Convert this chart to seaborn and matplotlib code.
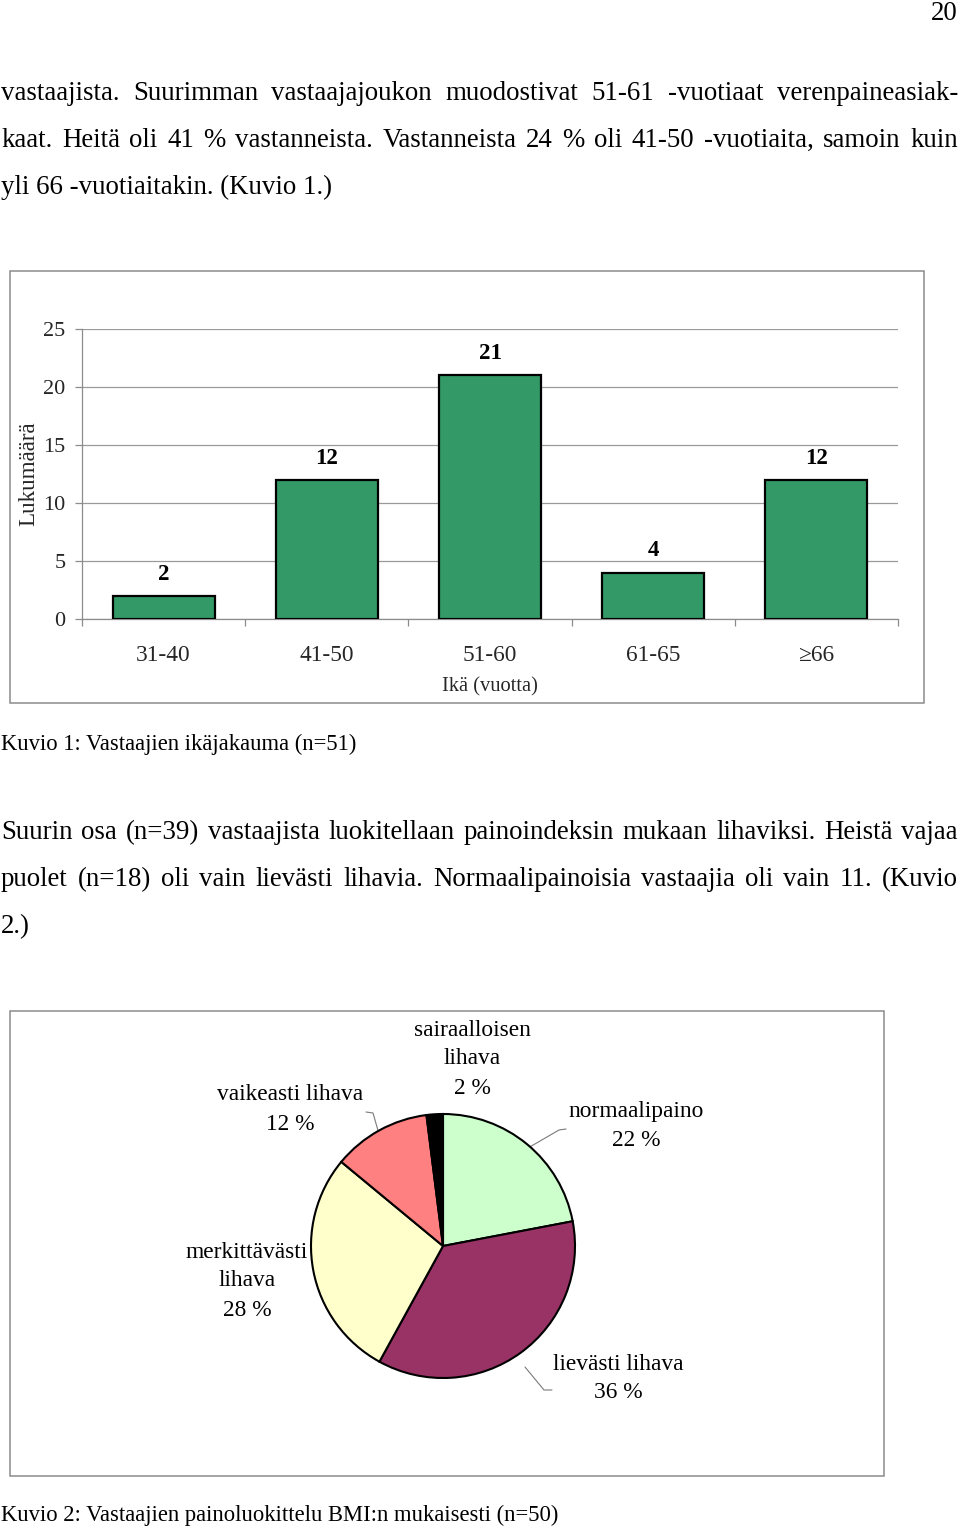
import matplotlib
matplotlib.use("Agg")
import matplotlib.pyplot as plt
import seaborn as sns
import pandas as pd
from matplotlib.patches import Rectangle

# ---------------- data ----------------
age_groups = ["31-40", "41-50", "51-60", "61-65", "\u226566"]
age_counts = [2, 12, 21, 4, 12]
y_ticks = [0, 5, 10, 15, 20, 25]

bmi_classes = ["normaalipaino", "lievästi lihava", "merkittävästi lihava",
               "vaikeasti lihava", "sairaalloisen lihava"]
bmi_percent = [22, 36, 28, 12, 2]
bmi_colors = ["#CCFFCC", "#993366", "#FFFFCC", "#FF8080", "#000000"]

para1 = [
    "vastaajista. Suurimman vastaajajoukon muodostivat 51-61 -vuotiaat verenpaineasiak-",
    "kaat. Heitä oli 41 % vastanneista. Vastanneista 24 % oli 41-50 -vuotiaita, samoin kuin",
    "yli 66 -vuotiaitakin. (Kuvio 1.)",
]
para2 = [
    "Suurin osa (n=39) vastaajista luokitellaan painoindeksin mukaan lihaviksi. Heistä vajaa",
    "puolet (n=18) oli vain lievästi lihavia. Normaalipainoisia vastaajia oli vain 11. (Kuvio",
    "2.)",
]
caption1 = "Kuvio 1: Vastaajien ikäjakauma (n=51)"
caption2 = "Kuvio 2: Vastaajien painoluokittelu BMI:n mukaisesti (n=50)"
page_number = "20"

# ---------------- setup ----------------
sns.set_theme(style="white")
plt.rcParams["font.family"] = ["Liberation Serif", "DejaVu Serif"]
plt.rcParams["text.color"] = "black"

W, H = 960, 1529
fig = plt.figure(figsize=(9.6, 15.29), dpi=100)
fig.patch.set_facecolor("white")


def rect(x0, y0, x1, y1):
    return [x0 / W, 1 - y1 / H, (x1 - x0) / W, (y1 - y0) / H]


page = fig.add_axes([0, 0, 1, 1], zorder=0)
page.set_xlim(0, W)
page.set_ylim(H, 0)
page.axis("off")
renderer = fig.canvas.get_renderer()


def width_px(t):
    return t.get_window_extent(renderer).width


def fit_size(s, target):
    t = page.text(0, 0, s, fontsize=20)
    w = width_px(t)
    t.remove()
    return 20 * target / w


body_fs = fit_size(para1[2], 332)


def justified(line, y, fs, x0=1, x1=958):
    words = line.split(" ")
    ts = [page.text(0, y, w, fontsize=fs, va="baseline", ha="left") for w in words]
    ws = [width_px(t) for t in ts]
    gap = (x1 - x0 - sum(ws)) / (len(ws) - 1)
    x = x0
    for t, w in zip(ts, ws):
        t.set_x(x)
        x += w + gap


for i, y in enumerate([100, 147]):
    justified(para1[i], y, body_fs)
page.text(1, 194, para1[2], fontsize=body_fs, va="baseline")
for i, y in enumerate([839, 886]):
    justified(para2[i], y, body_fs)
page.text(1, 933, para2[2], fontsize=body_fs, va="baseline")

cap_fs = fit_size(caption1, 356)
page.text(1, 750, caption1, fontsize=cap_fs, va="baseline")
page.text(1, 1521, caption2, fontsize=cap_fs, va="baseline")
page.text(958, 20, page_number, fontsize=body_fs, va="baseline", ha="right")

frame_col = "#8c8c8c"
page.add_patch(Rectangle((10, 271), 914, 432, fill=False, edgecolor=frame_col, lw=1.1))
page.add_patch(Rectangle((10, 1011), 874, 465, fill=False, edgecolor=frame_col, lw=1.1))

# ---------------- bar chart ----------------
ax = fig.add_axes(rect(82, 329, 898, 619), zorder=2)
ax.set_facecolor("none")
df = pd.DataFrame({"age": age_groups, "n": age_counts})
sns.barplot(data=df, x="age", y="n", color="#339966", saturation=1,
            edgecolor="black", linewidth=1.6, width=0.625, ax=ax, zorder=3)
ax.set_ylim(0, 25)
ax.set_xlim(-0.5, len(age_groups) - 0.5)
ax.set_yticks(y_ticks)
ax.yaxis.grid(True, color="#9a9a9a", lw=0.9)
ax.set_axisbelow(True)
for s in ["top", "right"]:
    ax.spines[s].set_visible(False)
for s in ["left", "bottom"]:
    ax.spines[s].set_color("#8c8c8c")
    ax.spines[s].set_linewidth(0.9)
ax.tick_params(axis="y", left=True, length=5, width=0.9, color="#8c8c8c",
               pad=7, labelsize=16)
ax.set_xticks([i - 0.5 for i in range(len(age_groups) + 1)],
              labels=[""] * (len(age_groups) + 1))
ax.set_xticks(range(len(age_groups)), labels=age_groups, minor=True)
ax.tick_params(axis="x", which="major", bottom=True, length=5, width=0.9,
               color="#8c8c8c")
ax.tick_params(axis="x", which="minor", bottom=True, length=0, pad=19, labelsize=16.8)
ax.bar_label(ax.containers[0], padding=8, fontweight="bold", fontsize=16.5)
ax.set_xlabel("Ikä (vuotta)", fontsize=14.8)
ax.xaxis.label.set_va("center")
ax.xaxis.set_label_coords(0.5, (619 - 687) / 290)
ax.set_ylabel("Lukumäärä", fontsize=16.6)
ax.yaxis.label.set_va("center")
ax.yaxis.set_label_coords((29 - 82) / 816, 0.5)

# ---------------- pie chart ----------------
cx, cy, r = 443, 1246, 132
pax = fig.add_axes(rect(cx - r, cy - r, cx + r, cy + r), zorder=2)
wedges, _ = pax.pie(bmi_percent, colors=bmi_colors, startangle=90, counterclock=False,
                    radius=1, wedgeprops=dict(edgecolor="black", linewidth=1.5))
for w in wedges:
    w.set_clip_on(False)
pax.set_xlim(-1, 1)
pax.set_ylim(-1, 1)
pax.axis("off")

pie_fs = 16.8
label_lines = {
    "normaalipaino": (["normaalipaino", "22 %"], 636, [1112, 1141]),
    "lievästi lihava": (["lievästi lihava", "36 %"], 618, [1364, 1393]),
    "merkittävästi lihava": (["merkittävästi", "lihava", "28 %"], 247, [1252, 1281, 1310]),
    "vaikeasti lihava": (["vaikeasti lihava", "12 %"], 290, [1094, 1124]),
    "sairaalloisen lihava": (["sairaalloisen", "lihava", "2 %"], 472, [1030, 1059, 1088]),
}
for name, p in zip(bmi_classes, bmi_percent):
    lines, lx, lys = label_lines[name]
    for s, ly in zip(lines, lys):
        page.text(lx, ly, s, fontsize=pie_fs, ha="center", va="center")

lead_col = "#7a7a7a"
for xs, ys in [([366, 373, 379], [1112, 1113, 1134]),
               ([566, 559, 528], [1129, 1130, 1148]),
               ([525, 544, 552], [1367, 1390, 1390])]:
    page.plot(xs, ys, color=lead_col, lw=0.8)

fig.savefig("out.png", dpi=100, facecolor="white")
